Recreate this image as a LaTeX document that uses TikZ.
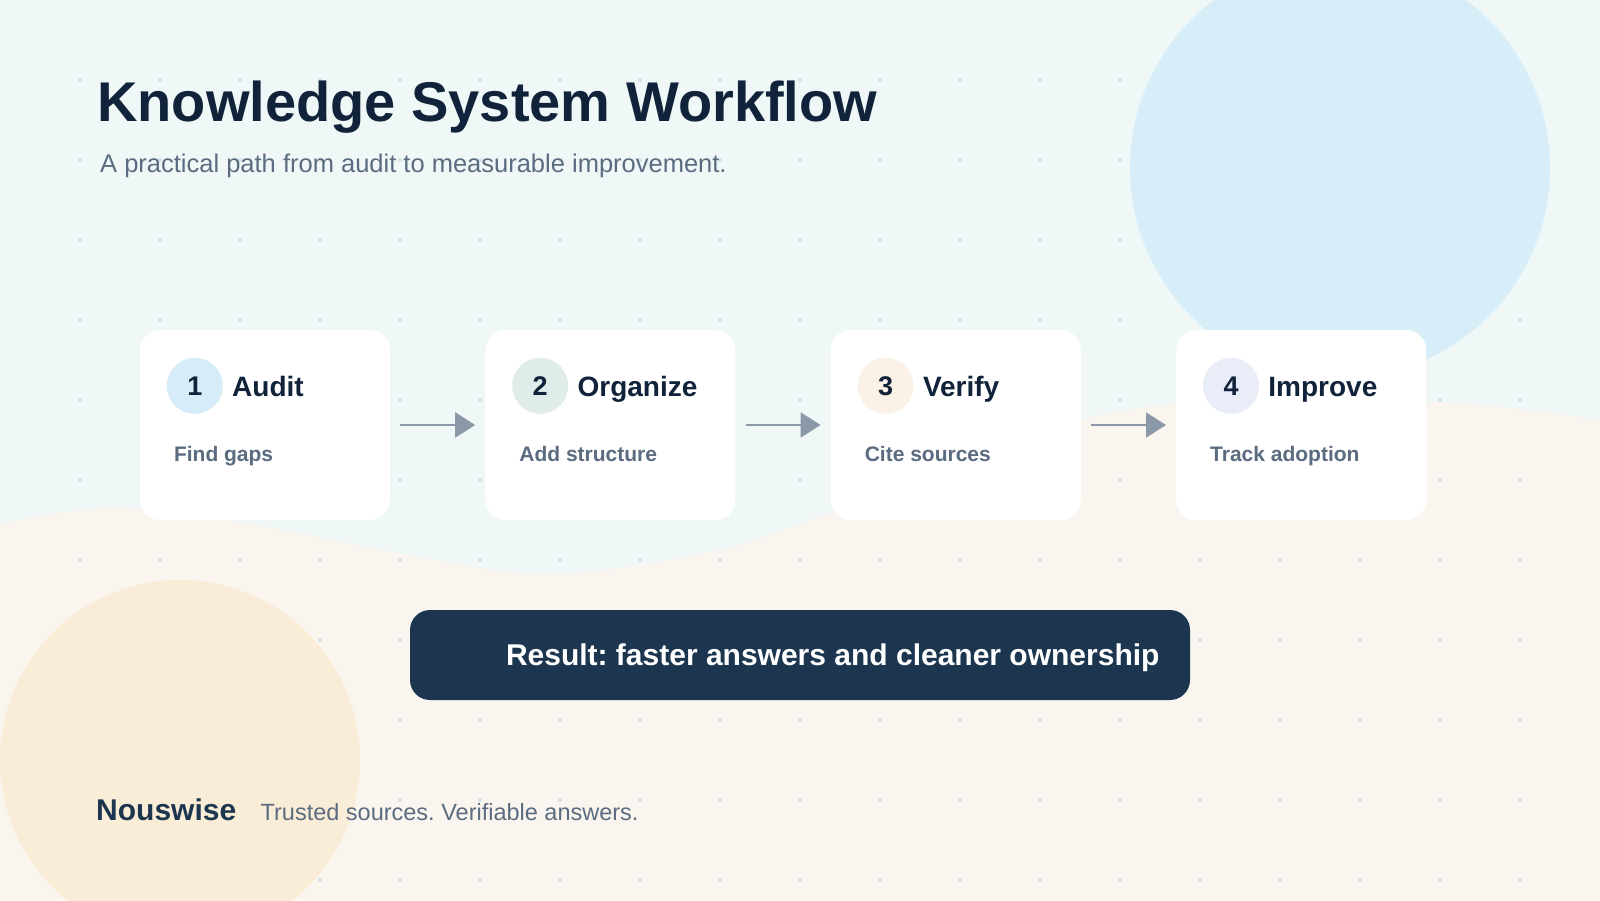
\documentclass[tikz,border=0pt]{standalone}
\usepackage{fontspec}
\setmainfont{Liberation Sans}
\usetikzlibrary{arrows.meta, positioning}
\usepackage{xcolor}
\frenchspacing

\definecolor{mintbg}{HTML}{EFF7F7}
\definecolor{creambg}{HTML}{FAF5EE}
\definecolor{skyblob}{HTML}{D7EDF8}
\definecolor{peachblob}{HTML}{FAEDD8}
\definecolor{gridcol}{HTML}{D3E2E8}
\definecolor{ink}{HTML}{10233A}
\definecolor{slate}{HTML}{5B6B80}
\definecolor{arrowgrey}{HTML}{8B98A7}
\definecolor{navybar}{HTML}{1D3650}
\definecolor{bubA}{HTML}{D6ECF8}
\definecolor{bubB}{HTML}{DFECE9}
\definecolor{bubC}{HTML}{FBF2E7}
\definecolor{bubD}{HTML}{E9EDF7}

\begin{document}
\begin{tikzpicture}[
        x=1pt, y=-1pt,
        node distance=95pt,
        card/.style={rectangle, rounded corners=20pt, fill=white, inner sep=0pt,
                   minimum width=250pt, minimum height=190pt},
        numdot/.style={circle, minimum size=56pt, inner sep=0pt, text=ink,
                   font=\bfseries\fontsize{27}{27}\selectfont},
        steptitle/.style={inner sep=0pt, text=ink, text height=21pt, text depth=-1pt,
                   font=\bfseries\fontsize{28}{28}\selectfont},
        stepnote/.style={inner sep=0pt, anchor=base west, text=slate,
                   font=\bfseries\fontsize{21}{21}\selectfont},
        arrow/.style={-{Triangle[length=20pt, width=25pt]}, line width=2pt, draw=arrowgrey},
        resultbar/.style={rectangle, rounded corners=20pt, fill=navybar,
                   minimum width=780pt, minimum height=90pt},
        plain/.style={inner sep=0pt, anchor=base west}
    ]
    \useasboundingbox (0,0) rectangle (1600,900);
    \clip (0,0) rectangle (1600,900);

    % backdrop
    \fill[mintbg] (0,0) rectangle (1600,900);
    \fill[creambg] plot[smooth, tension=0.6] coordinates {(0,524) (112,508) (255,525)
        (408,555) (551,574) (714,551) (816,518) (1110,413) (1410,401) (1600,420)}
        -- (1600,900) -- (0,900) -- cycle;
    \foreach \x in {80,160,...,1520}
        \foreach \y in {80,160,...,880}
            \fill[gridcol] (\x,\y) circle (2pt);
    \fill[skyblob] (1340,168) circle (210pt);
    \fill[peachblob] (180,760) circle (180pt);

    % heading
    \node[plain, text=ink, font=\bfseries\fontsize{56}{60}\selectfont] (title) at (97,121) {Knowledge System Workflow};
    \node[plain, text=slate, font=\fontsize{25.5}{30}\selectfont] (subtitle) at (100,172) {A practical path from audit to measurable improvement.};

    % steps
    \node[card] (audit) at (265,425) {};
    \node[card, right=of audit] (organize) {};
    \node[card, right=of organize] (verify) {};
    \node[card, right=of verify] (improve) {};

    \node[numdot, fill=bubA] (auditnum) at ([xshift=55pt, yshift=-56pt]audit.north west) {1};
    \node[steptitle, right=9pt of auditnum] (audittitle) {Audit};
    \node[stepnote] (auditnote) at ([xshift=34pt, yshift=-132pt]audit.north west) {Find gaps};

    \node[numdot, fill=bubB] (organizenum) at ([xshift=55pt, yshift=-56pt]organize.north west) {2};
    \node[steptitle, right=9pt of organizenum] (organizetitle) {Organize};
    \node[stepnote] (organizenote) at ([xshift=34pt, yshift=-132pt]organize.north west) {Add structure};

    \node[numdot, fill=bubC] (verifynum) at ([xshift=55pt, yshift=-56pt]verify.north west) {3};
    \node[steptitle, right=9pt of verifynum] (verifytitle) {Verify};
    \node[stepnote] (verifynote) at ([xshift=34pt, yshift=-132pt]verify.north west) {Cite sources};

    \node[numdot, fill=bubD] (improvenum) at ([xshift=55pt, yshift=-56pt]improve.north west) {4};
    \node[steptitle, right=9pt of improvenum] (improvetitle) {Improve};
    \node[stepnote] (improvenote) at ([xshift=34pt, yshift=-132pt]improve.north west) {Track adoption};

    \draw[arrow] ([xshift=10pt]audit.east) -- ([xshift=-10pt]organize.west);
    \draw[arrow] ([xshift=10pt]organize.east) -- ([xshift=-10pt]verify.west);
    \draw[arrow] ([xshift=10pt]verify.east) -- ([xshift=-10pt]improve.west);

    % result
    \node[resultbar] (result) at (800,655) {};
    \node[plain, text=white, font=\bfseries\fontsize{30}{30}\selectfont] (resultlabel)
        at ([xshift=96pt, yshift=-10pt]result.west) {Result: faster answers and cleaner ownership};

    % footer
    \node[plain, text=navybar, font=\bfseries\fontsize{30}{30}\selectfont] (brand) at (96,820) {Nouswise};
    \node[plain, text=slate, font=\fontsize{23.5}{28}\selectfont, base right=24pt of brand] (tagline) {Trusted sources. Verifiable answers.};

\end{tikzpicture}
\end{document}
